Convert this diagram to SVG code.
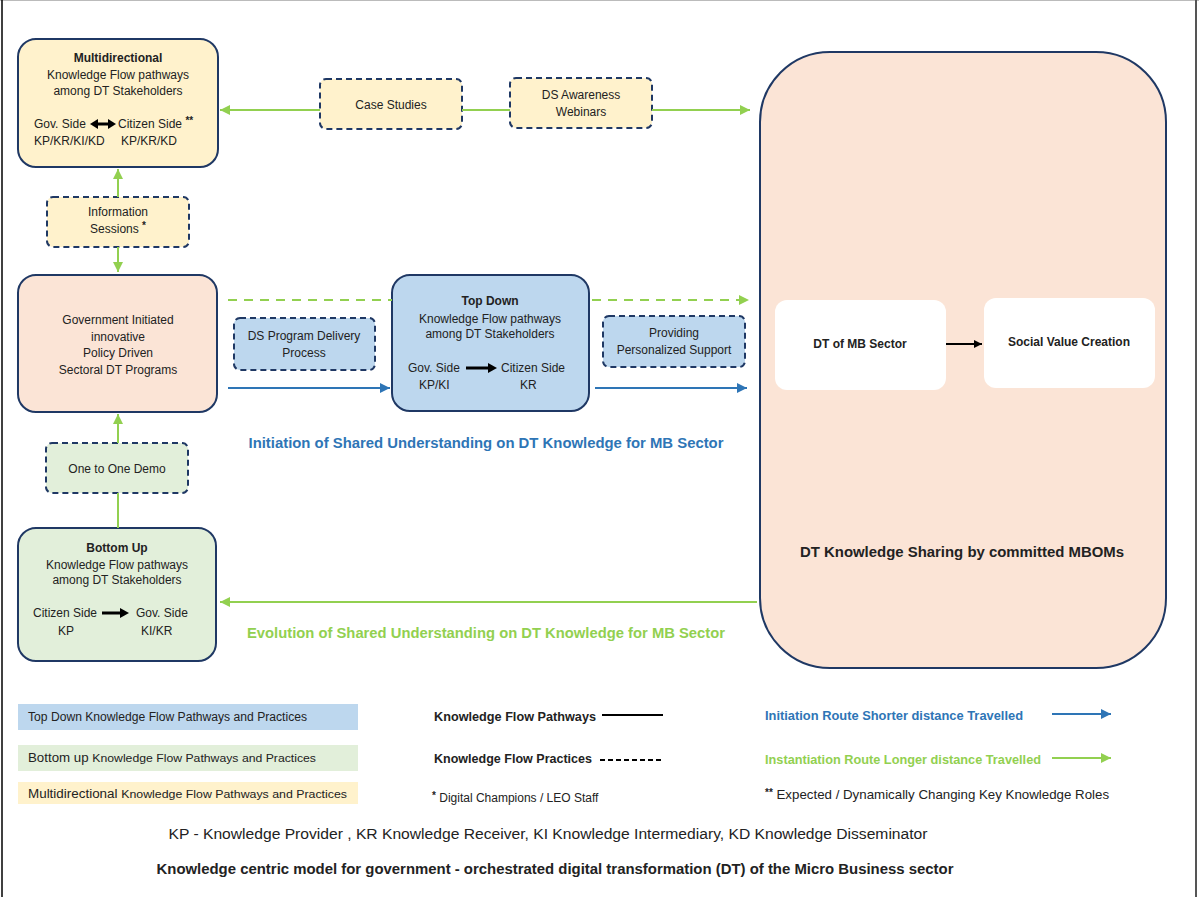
<svg xmlns="http://www.w3.org/2000/svg" width="1199" height="897" viewBox="0 0 1199 897">
<defs>
<style>
text{font-family:"Liberation Sans",Arial,sans-serif;fill:#222;}
.t{font-size:12px;text-anchor:middle;}
.s{font-size:12px;}
.b{font-weight:bold;}
.node{stroke:#1f3864;stroke-width:2;}
.prac{stroke:#1f3864;stroke-width:2;stroke-dasharray:6,4;}
.yel{fill:#fff2cc;}
.pch{fill:#fbe4d6;}
.blu{fill:#bdd7ee;}
.grn{fill:#e2efda;}
.gline{stroke:#92d050;stroke-width:2;fill:none;}
.bline{stroke:#2e75b6;stroke-width:2;fill:none;}
.ast{font-size:10px;font-weight:bold;}
</style>
<marker id="ag" viewBox="0 0 10 10" refX="10" refY="5" markerWidth="5" markerHeight="5" orient="auto-start-reverse"><path d="M0,0 L10,5 L0,10 z" fill="#92d050"/></marker>
<marker id="ab" viewBox="0 0 10 10" refX="10" refY="5" markerWidth="5" markerHeight="5" orient="auto-start-reverse"><path d="M0,0 L10,5 L0,10 z" fill="#2e75b6"/></marker>
<marker id="ak" viewBox="0 0 10 10" refX="10" refY="5" markerWidth="4" markerHeight="4" orient="auto-start-reverse"><path d="M0,0 L10,5 L0,10 z" fill="#000"/></marker>
</defs>
<rect x="0" y="0" width="1199" height="897" fill="#fff"/>
<line x1="0" y1="0.5" x2="1199" y2="0.5" stroke="#bbb" stroke-width="1"/>
<line x1="2" y1="0" x2="2" y2="897" stroke="#000" stroke-width="1.5"/>
<line x1="1196" y1="0" x2="1196" y2="897" stroke="#555" stroke-width="2"/>

<g id="multidirectional">
<rect class="node yel" x="18" y="39" width="200" height="128" rx="18"/>
<text class="t b" x="118" y="62">Multidirectional</text>
<text class="t" x="118" y="79">Knowledge Flow pathways</text>
<text class="t" x="118" y="95">among DT Stakeholders</text>
<text class="s" x="34" y="128">Gov. Side</text>
<line x1="96" y1="124" x2="110" y2="124" stroke="#000" stroke-width="3"/>
<polygon points="90,124 98,119 98,129" fill="#000"/>
<polygon points="116,124 108,119 108,129" fill="#000"/>
<text class="s" x="118" y="128">Citizen Side <tspan class="ast" dy="-4">**</tspan></text>
<text class="s" x="34" y="145">KP/KR/KI/KD</text>
<text class="s" x="121" y="145">KP/KR/KD</text>
</g>

<g id="case-studies">
<rect class="prac yel" x="320" y="79" width="142" height="50" rx="6"/>
<text class="t" x="391" y="109">Case Studies</text>
</g>

<g id="ds-awareness">
<rect class="prac yel" x="510" y="78" width="142" height="50" rx="6"/>
<text class="t" x="581" y="99">DS Awareness</text>
<text class="t" x="581" y="116">Webinars</text>
</g>

<g id="information-sessions">
<rect class="prac yel" x="47" y="197" width="142" height="50" rx="6"/>
<text class="t" x="118" y="216">Information</text>
<text class="t" x="118" y="233">Sessions <tspan class="ast" dy="-4">*</tspan></text>
</g>

<g id="government">
<rect class="node pch" x="18" y="275" width="199" height="137" rx="18"/>
<text class="t" x="118" y="324">Government Initiated</text>
<text class="t" x="118" y="341">innovative</text>
<text class="t" x="118" y="357">Policy Driven</text>
<text class="t" x="118" y="374">Sectoral DT Programs</text>
</g>

<g id="ds-program">
<rect class="prac blu" x="234" y="318" width="141" height="52" rx="6"/>
<text class="t" x="304" y="340">DS Program Delivery</text>
<text class="t" x="304" y="357">Process</text>
</g>

<g id="top-down">
<rect class="node blu" x="392" y="275" width="197" height="136" rx="18"/>
<text class="t b" x="490" y="305">Top Down</text>
<text class="t" x="490" y="323">Knowledge Flow pathways</text>
<text class="t" x="490" y="338">among DT Stakeholders</text>
<text class="s" x="408" y="372">Gov. Side</text>
<line x1="466" y1="368" x2="490" y2="368" stroke="#000" stroke-width="3"/>
<polygon points="497,368 488,363 488,373" fill="#000"/>
<text class="s" x="501" y="372">Citizen Side</text>
<text class="s" x="419" y="389">KP/KI</text>
<text class="s" x="520" y="389">KR</text>
</g>

<g id="personalized-support">
<rect class="prac blu" x="603" y="316" width="142" height="51" rx="6"/>
<text class="t" x="674" y="337">Providing</text>
<text class="t" x="674" y="354">Personalized Support</text>
</g>

<g id="one-to-one">
<rect class="prac grn" x="46" y="443" width="142" height="50" rx="6"/>
<text class="t" x="117" y="473">One to One Demo</text>
</g>

<g id="bottom-up">
<rect class="node grn" x="18" y="528" width="198" height="133" rx="18"/>
<text class="t b" x="117" y="552">Bottom Up</text>
<text class="t" x="117" y="569">Knowledge Flow pathways</text>
<text class="t" x="117" y="584">among DT Stakeholders</text>
<text class="s" x="33" y="617">Citizen Side</text>
<line x1="102" y1="613" x2="122" y2="613" stroke="#000" stroke-width="3"/>
<polygon points="129,613 120,608 120,618" fill="#000"/>
<text class="s" x="136" y="617">Gov. Side</text>
<text class="s" x="58" y="635">KP</text>
<text class="s" x="141" y="635">KI/KR</text>
</g>

<g id="mbom">
<rect x="760" y="52" width="406" height="616" rx="70" fill="#fbe4d6" stroke="#1f3864" stroke-width="2"/>
<text class="b" x="962" y="557" font-size="14" text-anchor="middle" textLength="324" lengthAdjust="spacingAndGlyphs">DT Knowledge Sharing by committed MBOMs</text>
</g>

<g id="dt-of-mb">
<rect x="775" y="300" width="171" height="90" rx="12" fill="#fff"/>
<text class="t b" x="860" y="348">DT of MB Sector</text>
</g>

<g id="social-value">
<rect x="984" y="298" width="171" height="90" rx="12" fill="#fff"/>
<text class="t b" x="1069" y="346">Social Value Creation</text>
</g>

<g id="connectors">
<line class="gline" x1="320" y1="110" x2="220" y2="110" marker-end="url(#ag)"/>
<line class="gline" x1="462" y1="110" x2="510" y2="110"/>
<line class="gline" x1="652" y1="110" x2="750" y2="110" marker-end="url(#ag)"/>
<line class="gline" x1="118" y1="197" x2="118" y2="169" marker-end="url(#ag)"/>
<line class="gline" x1="118" y1="247" x2="118" y2="272" marker-end="url(#ag)"/>
<line class="gline" x1="118" y1="443" x2="118" y2="414" marker-end="url(#ag)"/>
<line class="gline" x1="118" y1="528" x2="118" y2="493"/>
<line class="gline" x1="228" y1="300" x2="392" y2="300" stroke-dasharray="9,7"/>
<line class="gline" x1="592" y1="300" x2="749" y2="300" stroke-dasharray="9,7" marker-end="url(#ag)"/>
<line class="bline" x1="228" y1="388" x2="390" y2="388" marker-end="url(#ab)"/>
<line class="bline" x1="595" y1="388" x2="747" y2="388" marker-end="url(#ab)"/>
<line class="gline" x1="757" y1="602" x2="220" y2="602" marker-end="url(#ag)"/>
<line x1="946" y1="344" x2="982" y2="344" stroke="#000" stroke-width="2" marker-end="url(#ak)"/>
</g>

<g id="route-labels">
<text class="b" x="486" y="448" font-size="14" text-anchor="middle" style="fill:#2e75b6" textLength="475" lengthAdjust="spacingAndGlyphs">Initiation of Shared Understanding on DT Knowledge for MB Sector</text>
<text class="b" x="486" y="638" font-size="14" text-anchor="middle" style="fill:#92d050" textLength="478" lengthAdjust="spacingAndGlyphs">Evolution of Shared Understanding on DT Knowledge for MB Sector</text>
</g>

<g id="legend">
<rect x="18" y="704" width="340" height="26" fill="#bdd7ee"/>
<text x="28" y="721" font-size="12" textLength="279" lengthAdjust="spacingAndGlyphs">Top Down Knowledge Flow Pathways and Practices</text>
<rect x="18" y="745" width="340" height="26" fill="#e2efda"/>
<text x="28" y="762" font-size="12.5" textLength="288" lengthAdjust="spacingAndGlyphs">Bottom up <tspan font-size="11.5">Knowledge Flow Pathways and Practices</tspan></text>
<rect x="18" y="782" width="340" height="22" fill="#fff2cc"/>
<text x="28" y="798" font-size="12.5" textLength="319" lengthAdjust="spacingAndGlyphs">Multidirectional <tspan font-size="11.5">Knowledge Flow Pathways and Practices</tspan></text>
<text class="b" x="434" y="721" font-size="12.5" textLength="162" lengthAdjust="spacingAndGlyphs">Knowledge Flow Pathways</text>
<line x1="602" y1="715" x2="663" y2="715" stroke="#000" stroke-width="2"/>
<text class="b" x="434" y="763" font-size="12.5" textLength="158" lengthAdjust="spacingAndGlyphs">Knowledge Flow Practices</text>
<line x1="600" y1="760" x2="663" y2="760" stroke="#000" stroke-width="2" stroke-dasharray="5,3"/>
<text x="432" y="802" font-size="12"><tspan class="ast" dy="-3">*</tspan><tspan dy="3"> Digital Champions / LEO Staff</tspan></text>
<text class="b" x="765" y="720" font-size="12.5" style="fill:#2e75b6" textLength="258" lengthAdjust="spacingAndGlyphs">Initiation Route Shorter distance Travelled</text>
<line x1="1052" y1="714" x2="1111" y2="714" class="bline" marker-end="url(#ab)"/>
<text class="b" x="765" y="764" font-size="12.5" style="fill:#92d050" textLength="276" lengthAdjust="spacingAndGlyphs">Instantiation Route Longer distance Travelled</text>
<line x1="1052" y1="758" x2="1111" y2="758" class="gline" marker-end="url(#ag)"/>
<text x="765" y="799" font-size="13.3"><tspan class="ast" dy="-3">**</tspan><tspan dy="3"> Expected / Dynamically Changing Key Knowledge Roles</tspan></text>
</g>

<g id="footer">
<text x="548" y="839" font-size="14" text-anchor="middle" textLength="759" lengthAdjust="spacingAndGlyphs">KP - Knowledge Provider , KR Knowledge Receiver, KI Knowledge Intermediary, KD Knowledge Disseminator</text>
<text class="b" x="555" y="874" font-size="14" text-anchor="middle" textLength="797" lengthAdjust="spacingAndGlyphs">Knowledge centric model for government - orchestrated digital transformation (DT) of the Micro Business sector</text>
</g>
</svg>
